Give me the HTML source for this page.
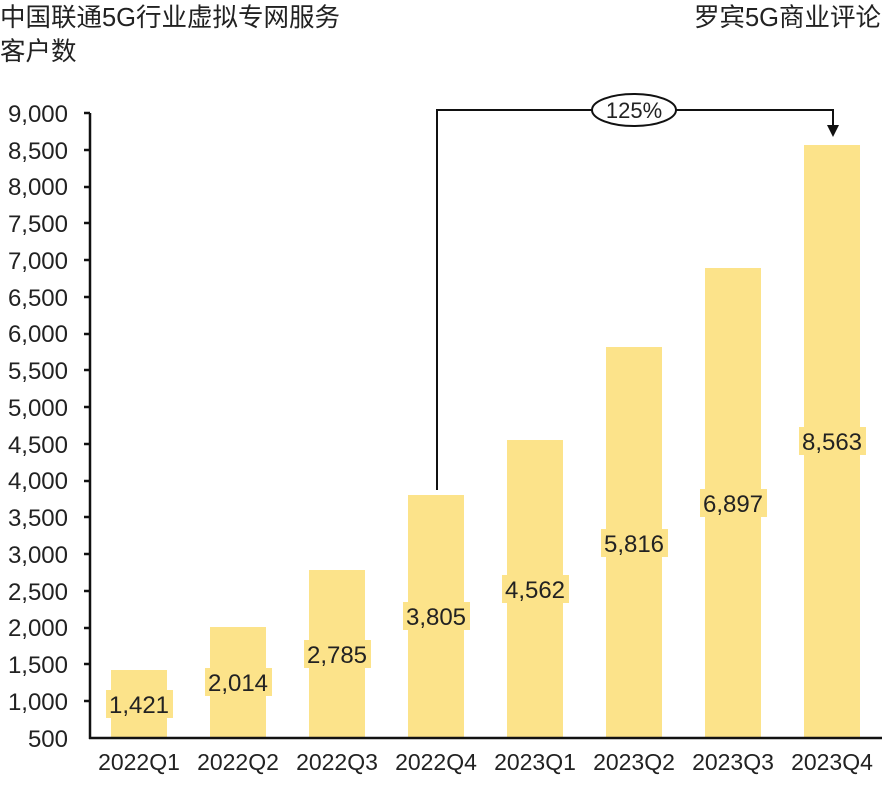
<!DOCTYPE html>
<html><head><meta charset="utf-8"><style>
html,body{margin:0;padding:0;background:#fff;}
svg{display:block;font-family:"Liberation Sans","Noto Sans CJK SC",sans-serif;}
</style></head><body>
<svg width="887" height="788" viewBox="0 0 887 788" xmlns="http://www.w3.org/2000/svg">
<text x="0" y="26" font-size="25.5" fill="#222">中国联通5G行业虚拟专网服务</text>
<text x="0" y="60" font-size="25.5" fill="#222">客户数</text>
<text x="881" y="26" font-size="25.5" fill="#222" text-anchor="end">罗宾5G商业评论</text>
<g font-size="24" fill="#222" text-anchor="end">
<text x="68" y="747">500</text>
<text x="68" y="710">1,000</text>
<text x="68" y="673">1,500</text>
<text x="68" y="636">2,000</text>
<text x="68" y="600">2,500</text>
<text x="68" y="563">3,000</text>
<text x="68" y="526">3,500</text>
<text x="68" y="489">4,000</text>
<text x="68" y="453">4,500</text>
<text x="68" y="416">5,000</text>
<text x="68" y="379">5,500</text>
<text x="68" y="342">6,000</text>
<text x="68" y="306">6,500</text>
<text x="68" y="269">7,000</text>
<text x="68" y="232">7,500</text>
<text x="68" y="195">8,000</text>
<text x="68" y="159">8,500</text>
<text x="68" y="122">9,000</text>
</g>
<g fill="#FCE38A">
<rect x="111" y="670" width="56" height="68"/>
<rect x="210" y="627" width="56" height="111"/>
<rect x="309" y="570" width="56" height="168"/>
<rect x="408" y="495" width="56" height="243"/>
<rect x="507" y="440" width="56" height="298"/>
<rect x="606" y="347" width="56" height="391"/>
<rect x="705" y="268" width="56" height="470"/>
<rect x="804" y="145" width="56" height="593"/>
<rect x="106" y="690" width="67" height="28"/>
<rect x="205" y="668" width="67" height="28"/>
<rect x="304" y="640" width="67" height="28"/>
<rect x="403" y="602" width="67" height="28"/>
<rect x="502" y="575" width="67" height="28"/>
<rect x="601" y="529" width="67" height="28"/>
<rect x="700" y="489" width="67" height="28"/>
<rect x="799" y="427" width="67" height="28"/>
</g>
<g font-size="24" fill="#222" text-anchor="middle">
<text x="139" y="713">1,421</text>
<text x="238" y="691">2,014</text>
<text x="337" y="663">2,785</text>
<text x="436" y="625">3,805</text>
<text x="535" y="598">4,562</text>
<text x="634" y="552">5,816</text>
<text x="733" y="512">6,897</text>
<text x="832" y="450">8,563</text>
</g>
<g stroke="#111" stroke-width="2.5" fill="none">
<line x1="90" y1="113" x2="90" y2="739"/>
<line x1="89" y1="738" x2="882" y2="738"/>
<path d="M84 113H90M84 150H90M84 187H90M84 223H90M84 260H90M84 297H90M84 334H90M84 370H90M84 407H90M84 444H90M84 481H90M84 517H90M84 554H90M84 591H90M84 628H90M84 664H90M84 701H90"/>
</g>
<g stroke="#111" stroke-width="2" fill="none">
<polyline points="437,490 437,110 592,110"/>
<polyline points="676,110 833,110 833,126"/>
<ellipse cx="634" cy="110" rx="42" ry="16" fill="#fff"/>
</g>
<polygon points="827,125 839,125 833,137" fill="#111"/>
<text x="634" y="118" font-size="22" fill="#222" text-anchor="middle">125%</text>
<g font-size="23" fill="#222" text-anchor="middle">
<text x="139" y="770">2022Q1</text>
<text x="238" y="770">2022Q2</text>
<text x="337" y="770">2022Q3</text>
<text x="436" y="770">2022Q4</text>
<text x="535" y="770">2023Q1</text>
<text x="634" y="770">2023Q2</text>
<text x="733" y="770">2023Q3</text>
<text x="832" y="770">2023Q4</text>
</g>
</svg>
</body></html>
